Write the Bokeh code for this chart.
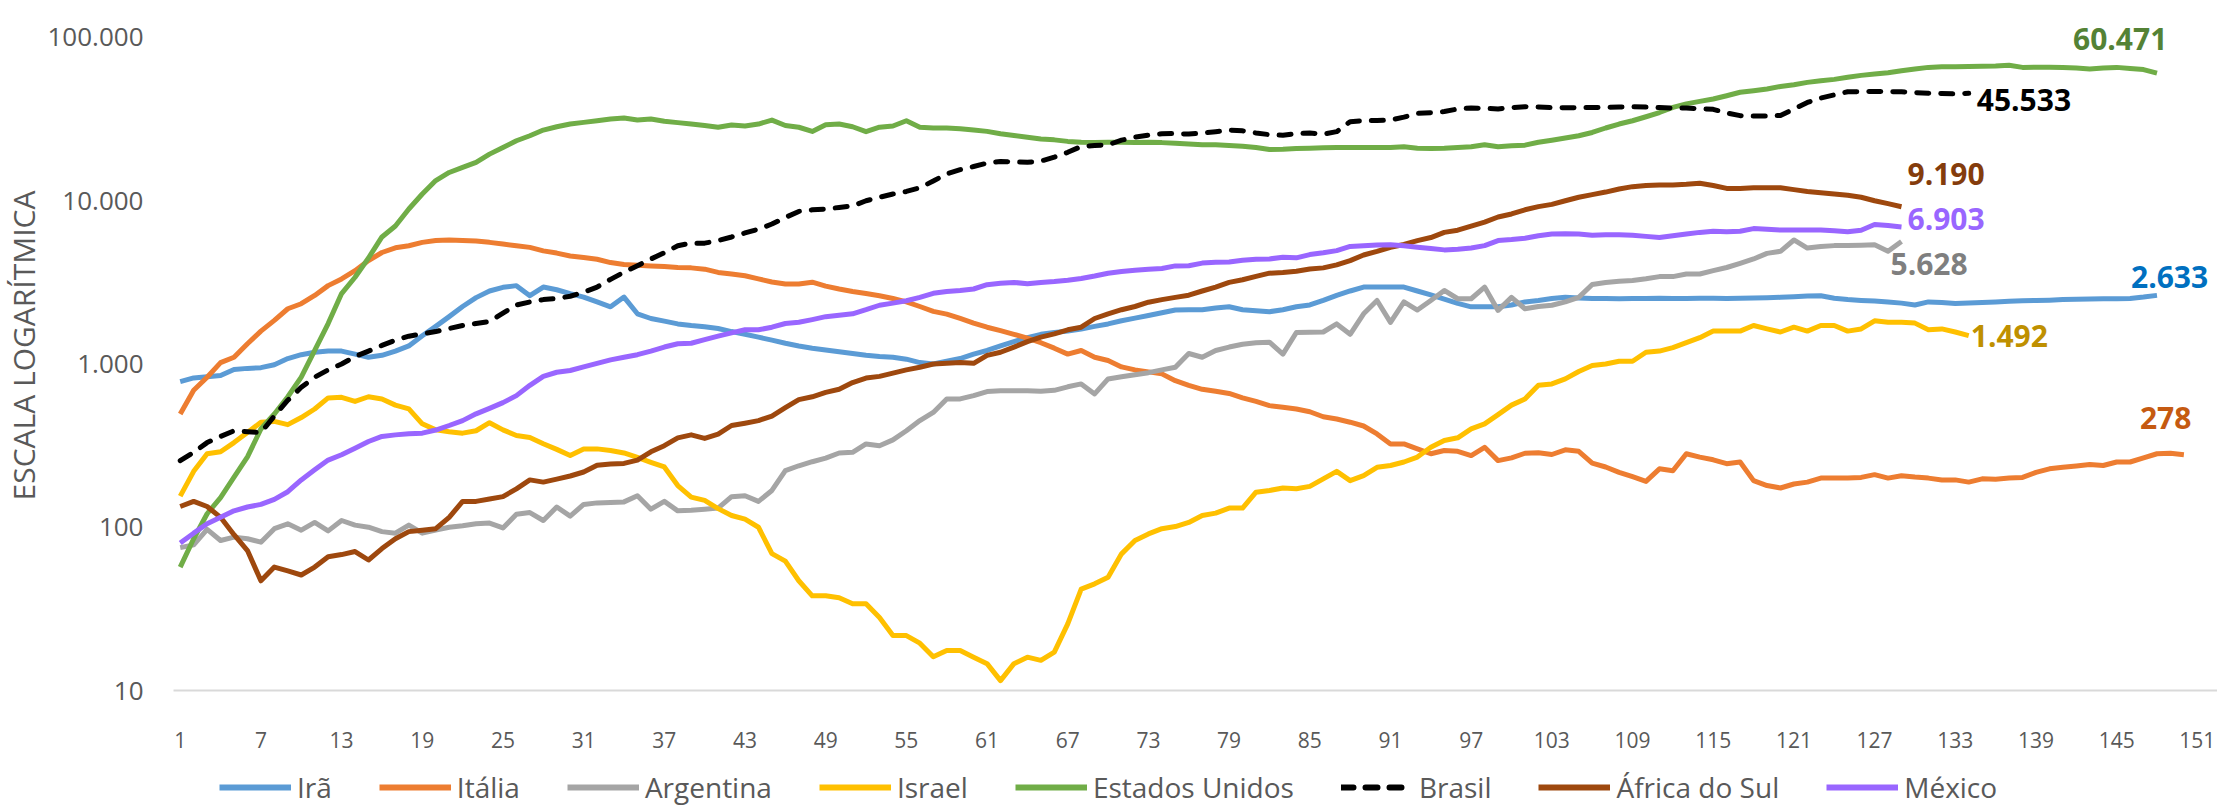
from bokeh.plotting import figure
from bokeh.models import Range1d, FixedTicker, Label, Legend, LegendItem
from bokeh.layouts import column
from bokeh.embed import file_html
from bokeh.resources import INLINE

# ---------------- data ----------------
x_ticks = [1, 7, 13, 19, 25, 31, 37, 43, 49, 55, 61, 67, 73, 79, 85, 91, 97,
           103, 109, 115, 121, 127, 133, 139, 145, 151]
y_ticks = [10, 100, 1000, 10000, 100000]
y_tick_labels = ["10", "100", "1.000", "10.000", "100.000"]
y_axis_title = "ESCALA LOGARÍTMICA"

names = ["Irã", "Itália", "Argentina", "Israel", "Estados Unidos", "Brasil",
         "África do Sul", "México"]

iran = [780, 822, 835, 850, 925, 940, 950, 990, 1080, 1140,
        1180, 1200, 1200, 1150, 1100, 1130, 1200, 1290, 1490, 1700,
        1950, 2250, 2550, 2800, 2950, 3020, 2620, 2960, 2850, 2700,
        2570, 2400, 2240, 2570, 2030, 1900, 1830, 1760, 1720, 1690,
        1650, 1580, 1520, 1460, 1400, 1340, 1290, 1250, 1220, 1190,
        1160, 1130, 1110, 1100, 1070, 1020, 1000, 1040, 1080, 1150,
        1210, 1290, 1370, 1450, 1520, 1560, 1590, 1640, 1700, 1760,
        1840, 1910, 1980, 2060, 2140, 2150, 2150, 2200, 2240, 2150,
        2120, 2090, 2150, 2240, 2300, 2450, 2630, 2800, 2960, 2960,
        2960, 2960, 2800, 2650, 2500, 2350, 2240, 2240, 2240, 2300,
        2400, 2450, 2520, 2560, 2540, 2520, 2520, 2510, 2520, 2520,
        2530, 2520, 2520, 2530, 2530, 2520, 2530, 2540, 2550, 2560,
        2580, 2610, 2620, 2530, 2480, 2450, 2430, 2400, 2360, 2300,
        2400, 2380, 2350, 2360, 2380, 2400, 2420, 2440, 2450, 2460,
        2480, 2490, 2500, 2510, 2510, 2520, 2570, 2633]

italia = [494, 690, 830, 1020, 1100, 1330, 1590, 1850, 2180, 2340,
          2630, 3020, 3320, 3730, 4300, 4820, 5150, 5300, 5560, 5700,
          5750, 5700, 5660, 5560, 5430, 5300, 5180, 4930, 4780, 4590,
          4490, 4380, 4180, 4070, 4030, 3990, 3950, 3900, 3880, 3810,
          3640, 3560, 3470, 3320, 3180, 3090, 3090, 3170, 3000, 2880,
          2780, 2700, 2620, 2520, 2400, 2250, 2100, 2020, 1900, 1780,
          1680, 1600, 1520, 1440, 1350, 1250, 1150, 1210, 1100, 1050,
          960, 920, 895, 870, 790, 740, 700, 680, 660, 620,
          590, 556, 543, 530, 510, 475, 460, 440, 417, 373,
          324, 324, 302, 282, 295, 292, 275, 309, 256, 266,
          284, 286, 279, 298, 292, 247, 234, 217, 204, 191,
          228, 222, 282, 269, 259, 245, 251, 193, 180, 174,
          184, 189, 200, 200, 200, 202, 210, 200, 207, 203,
          200, 195, 195, 189, 198, 197, 200, 202, 217, 228,
          233, 237, 242, 239, 251, 251, 266, 282, 284, 278]

argentina = [75, 78, 97, 83, 87, 85, 81, 98, 105, 96,
             107, 95, 110, 103, 100, 94, 92, 103, 92, 96,
             100, 102, 105, 106, 99, 120, 123, 110, 133, 117,
             138, 141, 142, 143, 156, 129, 144, 126, 127, 129,
             131, 154, 156, 144, 168, 222, 238, 252, 265, 285,
             288, 324, 316, 343, 390, 450, 505, 611, 611, 640,
             678, 685, 685, 685, 680, 690, 725, 755, 656, 810,
             835, 860, 885, 920, 955, 1160, 1100, 1210, 1270, 1320,
             1350, 1360, 1150, 1560, 1565, 1570, 1760, 1520, 2030, 2450,
             1800, 2400, 2140, 2450, 2820, 2510, 2510, 2960, 2130, 2560,
             2180, 2250, 2290, 2400, 2560, 3070, 3160, 3210, 3250, 3330,
             3430, 3430, 3560, 3560, 3730, 3900, 4140, 4400, 4760, 4900,
             5750, 5130, 5250, 5310, 5310, 5330, 5370, 4900, 5628]

israel = [155, 220, 282, 290, 330, 380, 440, 445, 425, 470,
          530, 620, 625, 590, 630, 611, 560, 531, 430, 395,
          385, 377, 390, 437, 395, 365, 355, 325, 300, 275,
          302, 302, 295, 285, 268, 250, 234, 180, 153, 146,
          130, 118, 112, 100, 69, 62, 47, 38, 38, 37,
          34, 34, 28, 21.7, 21.7, 19.5, 16.1, 17.6, 17.6, 16,
          14.6, 11.5, 14.6, 16, 15.3, 17.2, 25.6, 41.8, 45, 49.4,
          68.7, 83, 91, 98, 101, 107, 118, 122, 131, 131,
          164, 168, 174, 172, 178, 198, 220, 193, 207, 233,
          239, 251, 269, 309, 340, 353, 400, 430, 490, 560,
          611, 740, 755, 810, 900, 980, 1000, 1040, 1040, 1180,
          1200, 1260, 1350, 1450, 1590, 1590, 1590, 1720, 1640, 1570,
          1680, 1590, 1720, 1720, 1590, 1640, 1840, 1800, 1800, 1780,
          1620, 1640, 1570, 1492]

estados_unidos = [57, 85, 121, 152, 203, 270, 400, 494, 630, 830,
                  1210, 1770, 2700, 3400, 4460, 6000, 7000, 8900, 11000, 13300,
                  14900, 16000, 17200, 19300, 21200, 23300, 25000, 27100, 28400, 29500,
                  30200, 30900, 31700, 32100, 31200, 31700, 30700, 30100, 29500, 28900,
                  28200, 29100, 28700, 29500, 31200, 28900, 28200, 26600, 29200, 29500,
                  28400, 26500, 28200, 28700, 30900, 28200, 27900, 27900, 27600, 27100,
                  26600, 25700, 25100, 24500, 23900, 23600, 23100, 22800, 22700, 22800,
                  22800, 22700, 22800, 22700, 22500, 22300, 22000, 22000, 21800, 21600,
                  21200, 20600, 20700, 20900, 21000, 21100, 21200, 21200, 21200, 21200,
                  21200, 21400, 21000, 20900, 21000, 21200, 21400, 22000, 21400, 21700,
                  21900, 22800, 23500, 24200, 25000, 26200, 27900, 29500, 30900, 32700,
                  34700, 37300, 39200, 40600, 42000, 44000, 46200, 47200, 48400, 50100,
                  51400, 53100, 54400, 55400, 57000, 58600, 59700, 60900, 62600, 64100,
                  65600, 66200, 66300, 66500, 66600, 66800, 67600, 65600, 65800, 65800,
                  65600, 65000, 64100, 65000, 65600, 64500, 63600, 60471]

brasil = [256, 288, 330, 360, 390, 385, 380, 480, 600, 720,
          830, 920, 1000, 1110, 1200, 1300, 1400, 1480, 1530, 1580,
          1650, 1720, 1770, 1820, 2050, 2300, 2400, 2480, 2520, 2600,
          2750, 2960, 3300, 3650, 4000, 4400, 4800, 5300, 5500, 5500,
          5700, 6000, 6350, 6700, 7200, 7900, 8600, 8800, 8900, 9100,
          9300, 10000, 10500, 11000, 11400, 12000, 13200, 14600, 15500, 16200,
          17000, 17400, 17300, 17200, 17500, 18500, 19800, 21500, 21800, 22000,
          23500, 24500, 25200, 25700, 25800, 25600, 26000, 26500, 27100, 26800,
          26000, 25400, 25200, 25800, 26000, 25600, 26500, 30500, 31000, 31000,
          31200, 32500, 34300, 34600, 35200, 36500, 37000, 36800, 36500, 37200,
          37700, 37500, 37200, 37100, 37200, 37200, 37300, 37500, 37600, 37500,
          37200, 37000, 37000, 36600, 36300, 34500, 33200, 33000, 33000, 33300,
          36500, 40000, 42600, 44500, 46500, 46600, 46700, 46600, 46500, 46000,
          45600, 45400, 45100, 45533]

africa_do_sul = [134, 144, 134, 115, 90, 72, 47, 57, 54, 51,
                 57, 66, 68, 71, 63, 74, 85, 94, 96, 98,
                 115, 144, 144, 149, 154, 172, 195, 189, 197, 206,
                 218, 240, 244, 246, 258, 290, 316, 353, 368, 350,
                 372, 420, 434, 450, 480, 540, 605, 630, 670, 700,
                 770, 820, 840, 880, 920, 955, 1000, 1010, 1020, 1010,
                 1130, 1180, 1270, 1370, 1460, 1530, 1620, 1680, 1900, 2030,
                 2150, 2250, 2390, 2480, 2560, 2640, 2800, 2960, 3160, 3280,
                 3440, 3600, 3630, 3700, 3820, 3880, 4050, 4300, 4650, 4900,
                 5190, 5400, 5700, 5950, 6400, 6600, 7000, 7400, 7950, 8300,
                 8800, 9200, 9500, 10000, 10500, 10900, 11300, 11800, 12200, 12400,
                 12500, 12500, 12600, 12800, 12400, 11900, 11900, 12000, 12000, 12000,
                 11700, 11400, 11200, 11000, 10800, 10500, 10000, 9600, 9190]

mexico = [80, 92, 105, 115, 126, 133, 138, 148, 165, 195,
          225, 258, 278, 305, 335, 360, 368, 374, 377, 394,
          420, 450, 495, 535, 580, 640, 740, 840, 890, 912,
          960, 1010, 1060, 1100, 1140, 1200, 1270, 1330, 1340, 1410,
          1480, 1550, 1620, 1620, 1680, 1770, 1800, 1870, 1950, 1990,
          2030, 2150, 2290, 2360, 2440, 2560, 2710, 2780, 2820, 2880,
          3060, 3120, 3160, 3100, 3160, 3200, 3260, 3340, 3460, 3600,
          3690, 3750, 3800, 3850, 3990, 4000, 4150, 4200, 4210, 4320,
          4380, 4400, 4510, 4470, 4680, 4800, 4950, 5250, 5300, 5350,
          5380, 5300, 5190, 5100, 5000, 5050, 5130, 5310, 5700, 5780,
          5890, 6100, 6250, 6280, 6250, 6150, 6180, 6180, 6150, 6050,
          5950, 6100, 6250, 6400, 6500, 6450, 6500, 6750, 6700, 6610,
          6610, 6620, 6620, 6550, 6450, 6600, 7150, 7050, 6903]

end_labels = ["2.633", "278", "5.628", "1.492", "60.471", "45.533", "9.190", "6.903"]

series = [iran, italia, argentina, israel, estados_unidos, brasil, africa_do_sul, mexico]

# ---------------- styles ----------------
line_colors = ["#5B9BD5", "#ED7D31", "#A5A5A5", "#FFC000", "#70AD47", "#000000",
               "#9E480E", "#9966FF"]
label_colors = ["#0070C0", "#C55A11", "#7F7F7F", "#BF9000", "#548235", "#000000",
                "#843C0C", "#9966FF"]
# pixel offsets of each end label from the last point of its series
label_offsets = [(-26, 18), (-44, 37), (-11, -23), (2, 0), (-84, 34), (8, -7),
                 (6, 33), (6, 8)]
FONT = "Open Sans"
TXT = "#595959"
LW = 5
FRAME_LEFT = 172

# main chart: frame from x=172 px to right edge, y from top to 690 px
p = figure(width=2217, height=760,
           x_range=Range1d(0.5, 152.5), y_range=Range1d(10, 168500),
           y_axis_type="log", output_backend="svg", toolbar_location=None,
           min_border_left=FRAME_LEFT, min_border_right=0, min_border_top=0,
           min_border_bottom=70)
p.outline_line_color = None
p.xgrid.visible = False
p.ygrid.visible = False

# x axis
p.xaxis.ticker = FixedTicker(ticks=x_ticks)
p.xaxis.axis_line_color = "#D9D9D9"
p.xaxis.axis_line_width = 2
p.xaxis.major_tick_line_color = None
p.xaxis.minor_tick_line_color = None
p.xaxis.major_label_text_font = FONT
p.xaxis.major_label_text_font_size = "21px"
p.xaxis.major_label_text_color = TXT
p.xaxis.major_label_standoff = 35

# y axis
p.yaxis.ticker = FixedTicker(ticks=y_ticks)
p.yaxis.major_label_overrides = {t: l for t, l in zip(y_ticks, y_tick_labels)}
p.yaxis.axis_line_color = None
p.yaxis.major_tick_line_color = None
p.yaxis.minor_tick_line_color = None
p.yaxis.major_label_text_font = FONT
p.yaxis.major_label_text_font_size = "26px"
p.yaxis.major_label_text_color = TXT
p.yaxis.major_label_standoff = 24
p.yaxis.axis_label = y_axis_title
p.yaxis.axis_label_standoff = 0
p.yaxis.axis_label_text_font = FONT
p.yaxis.axis_label_text_font_size = "30px"
p.yaxis.axis_label_text_font_style = "normal"
p.yaxis.axis_label_text_color = TXT

for name, vals, col in zip(names, series, line_colors):
    xs = list(range(1, len(vals) + 1))
    if name == "Brasil":
        p.line(xs, vals, line_color=col, line_width=LW, line_dash="12 12",
               line_cap="round", line_join="round")
    else:
        p.line(xs, vals, line_color=col, line_width=LW, line_join="round")

for vals, txt, col, (dx, dy) in zip(series, end_labels, label_colors, label_offsets):
    p.add_layout(Label(x=len(vals), y=vals[-1], x_offset=dx, y_offset=dy, text=txt,
                       text_font=FONT, text_font_size="30px", text_font_style="bold",
                       text_color=col, text_align="left", text_baseline="middle"))

# legend strip below the chart (its frame is aligned with the chart frame)
p2 = figure(width=2217, height=46, x_range=Range1d(0, 1), y_range=Range1d(0, 1),
            output_backend="svg", toolbar_location=None,
            x_axis_location=None, y_axis_location=None,
            min_border_left=0, min_border_right=0, min_border_top=0,
            min_border_bottom=0)
p2.outline_line_color = None
p2.xgrid.visible = False
p2.ygrid.visible = False
items = []
for name, col in zip(names, line_colors):
    # swatch renderers: kept outside the visible range, only used by the legend
    if name == "Brasil":
        r = p2.line([-3, -2], [-3, -2], line_color=col, line_width=6,
                    line_dash="12 12", line_cap="round")
    else:
        r = p2.line([-3, -2], [-3, -2], line_color=col, line_width=6)
    items.append(LegendItem(label=name, renderers=[r]))

legend = Legend(items=items, orientation="horizontal", location=(218 - FRAME_LEFT, 0),
                glyph_width=72, glyph_height=30, label_standoff=6, spacing=47,
                padding=0, margin=0, label_text_font=FONT,
                label_text_font_size="28px", label_text_color=TXT,
                border_line_color=None, background_fill_alpha=0)
p2.add_layout(legend)

open("out.html", "w").write(file_html(column(p, p2, spacing=0), INLINE))
